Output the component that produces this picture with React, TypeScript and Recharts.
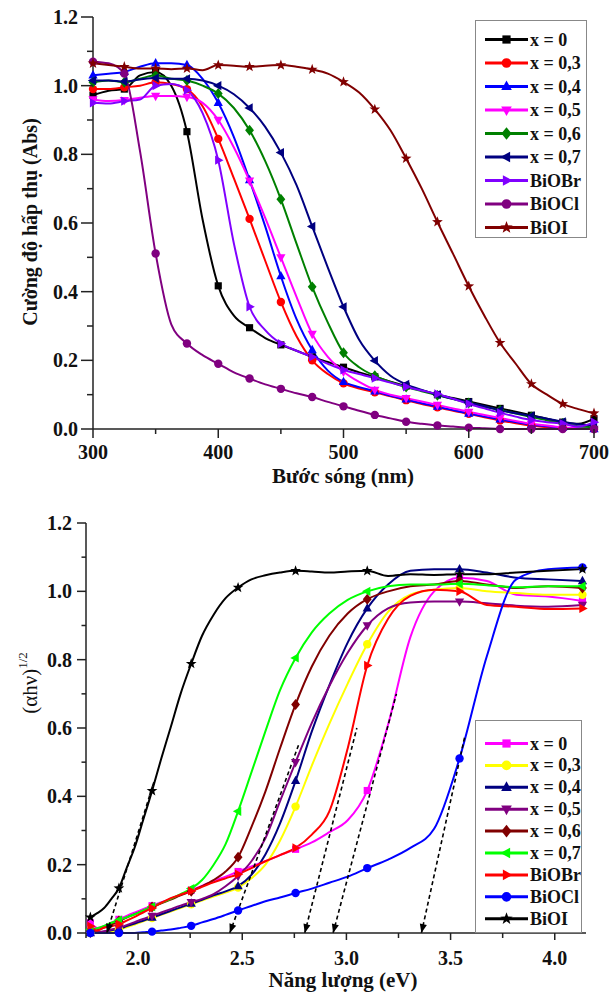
import React from 'react';
import { LineChart, Line, XAxis, YAxis } from 'recharts';

const FONT = '"Liberation Serif", "Times New Roman", serif';

// wavelength grid (nm); markers every 25 nm in (a), every 50 nm in (b)
const wavelengths = [300, 312.5, 325, 337.5, 350, 362.5, 375, 387.5, 400, 412.5, 425, 437.5, 450, 462.5, 475, 487.5, 500, 512.5, 525, 537.5, 550, 562.5, 575, 587.5, 600, 612.5, 625, 637.5, 650, 662.5, 675, 687.5, 700];
// the same points on the photon energy axis of panel (b), eV
const energies = [4.133, 3.968, 3.815, 3.674, 3.543, 3.421, 3.307, 3.2, 3.1, 3.006, 2.918, 2.834, 2.756, 2.681, 2.611, 2.544, 2.48, 2.42, 2.362, 2.307, 2.255, 2.204, 2.157, 2.111, 2.067, 2.024, 1.984, 1.945, 1.908, 1.872, 1.837, 1.804, 1.771];

const absX0 = [0.972, 0.985, 0.99, 1.03, 1.04, 1.0, 0.866, 0.61, 0.417, 0.33, 0.295, 0.265, 0.245, 0.228, 0.21, 0.195, 0.18, 0.165, 0.152, 0.138, 0.125, 0.112, 0.1, 0.09, 0.08, 0.07, 0.06, 0.05, 0.04, 0.03, 0.02, 0.015, 0.03];
const absX03 = [0.99, 0.99, 0.995, 1.0, 1.01, 1.005, 0.99, 0.94, 0.845, 0.73, 0.612, 0.49, 0.37, 0.27, 0.2, 0.16, 0.133, 0.118, 0.107, 0.095, 0.084, 0.073, 0.063, 0.053, 0.044, 0.034, 0.025, 0.017, 0.01, 0.005, 0.002, 0.0, 0.0];
const absX04 = [1.03, 1.035, 1.04, 1.055, 1.065, 1.065, 1.06, 1.02, 0.95, 0.85, 0.725, 0.59, 0.445, 0.32, 0.23, 0.17, 0.137, 0.122, 0.11, 0.097, 0.086, 0.075, 0.065, 0.055, 0.045, 0.036, 0.028, 0.02, 0.012, 0.008, 0.004, 0.002, 0.0];
const absX05 = [0.96, 0.955, 0.958, 0.965, 0.97, 0.97, 0.967, 0.95, 0.9, 0.82, 0.723, 0.615, 0.5, 0.385, 0.277, 0.21, 0.167, 0.137, 0.114, 0.1, 0.09, 0.08, 0.07, 0.06, 0.05, 0.041, 0.032, 0.023, 0.015, 0.01, 0.005, 0.002, 0.0];
const absX06 = [1.01, 1.015, 1.01, 1.02, 1.03, 1.02, 1.015, 1.0, 0.977, 0.935, 0.87, 0.78, 0.669, 0.54, 0.414, 0.31, 0.222, 0.18, 0.155, 0.137, 0.122, 0.11, 0.098, 0.087, 0.076, 0.065, 0.055, 0.045, 0.035, 0.025, 0.016, 0.008, 0.005];
const absX07 = [1.015, 1.015, 1.012, 1.018, 1.022, 1.02, 1.02, 1.015, 1.0, 0.975, 0.935, 0.88, 0.805, 0.71, 0.59, 0.47, 0.356, 0.26, 0.199, 0.155, 0.13, 0.114, 0.1, 0.088, 0.077, 0.066, 0.055, 0.046, 0.038, 0.03, 0.021, 0.014, 0.01];
const absBiOBr = [0.95, 0.948, 0.955, 0.96, 1.0, 1.005, 0.987, 0.92, 0.783, 0.54, 0.356, 0.288, 0.249, 0.228, 0.21, 0.19, 0.172, 0.16, 0.148, 0.135, 0.123, 0.112, 0.102, 0.088, 0.073, 0.06, 0.047, 0.036, 0.026, 0.02, 0.016, 0.007, 0.02];
const absBiOCl = [1.07, 1.065, 1.035, 0.81, 0.511, 0.305, 0.249, 0.215, 0.19, 0.165, 0.147, 0.13, 0.117, 0.104, 0.093, 0.079, 0.066, 0.053, 0.041, 0.031, 0.021, 0.015, 0.01, 0.007, 0.004, 0.002, 0, 0, 0, 0, 0, 0, 0];
const absBiOI = [1.065, 1.06, 1.055, 1.05, 1.05, 1.048, 1.05, 1.045, 1.06, 1.058, 1.055, 1.058, 1.06, 1.055, 1.047, 1.035, 1.011, 0.98, 0.931, 0.87, 0.788, 0.7, 0.603, 0.51, 0.416, 0.33, 0.251, 0.19, 0.131, 0.1, 0.073, 0.058, 0.046];

const seriesNames = ['x = 0', 'x = 0,3', 'x = 0,4', 'x = 0,5', 'x = 0,6', 'x = 0,7', 'BiOBr', 'BiOCl', 'BiOI'];
const seriesValues = [absX0, absX03, absX04, absX05, absX06, absX07, absBiOBr, absBiOCl, absBiOI];
const markerShapes = ['square', 'circle', 'up', 'down', 'diamond', 'left', 'right', 'circle', 'star'];
const colorsA = ['#000000', '#ff0000', '#0000ff', '#ff00ff', '#008000', '#000080', '#8000ff', '#800080', '#800000'];
const colorsB = ['#ff00ff', '#ffff00', '#000080', '#800080', '#800000', '#00ff00', '#ff0000', '#0000ff', '#000000'];

const yTicks = [0, 0.1, 0.2, 0.3, 0.4, 0.5, 0.6, 0.7, 0.8, 0.9, 1.0, 1.1, 1.2];
const xTicksA = [300, 350, 400, 450, 500, 550, 600, 650, 700];
const xTicksB = [1.75, 2.0, 2.25, 2.5, 2.75, 3.0, 3.25, 3.5, 3.75, 4.0];

// dashed tangents of panel (b): upper end on the curve, foot on the energy axis
const tangentTopE = [2.08, 2.77, 3.05, 3.24, 3.57];
const tangentTopV = [0.45, 0.55, 0.6, 0.7, 0.58];
const tangentFootE = [1.85, 2.44, 2.8, 2.936, 3.36];

const poly = (cx: number, cy: number, s: number, pts: number[][]) =>
  pts.map(([a, b]) => `${cx + a * s},${cy + b * s}`).join(' ');

const starPts = Array.from({ length: 10 }, (_, i) => {
  const r = i % 2 === 0 ? 1.35 : 0.55;
  const a = -Math.PI / 2 + (i * Math.PI) / 5;
  return [r * Math.cos(a), r * Math.sin(a)];
});

function Marker({ shape, cx, cy, color, k = 1 }: { shape: string; cx: number; cy: number; color: string; k?: number }) {
  const s = 4.2 * k;
  switch (shape) {
    case 'square':
      return <rect x={cx - s * 0.85} y={cy - s * 0.85} width={s * 1.7} height={s * 1.7} fill={color} />;
    case 'circle':
      return <circle cx={cx} cy={cy} r={s} fill={color} />;
    case 'up':
      return <polygon points={poly(cx, cy, s, [[0, -1.25], [1.1, 0.75], [-1.1, 0.75]])} fill={color} />;
    case 'down':
      return <polygon points={poly(cx, cy, s, [[0, 1.25], [1.1, -0.75], [-1.1, -0.75]])} fill={color} />;
    case 'left':
      return <polygon points={poly(cx, cy, s, [[-1.25, 0], [0.75, -1.1], [0.75, 1.1]])} fill={color} />;
    case 'right':
      return <polygon points={poly(cx, cy, s, [[1.25, 0], [-0.75, -1.1], [-0.75, 1.1]])} fill={color} />;
    case 'diamond':
      return <polygon points={poly(cx, cy, s, [[0, -1.3], [1.05, 0], [0, 1.3], [-1.05, 0]])} fill={color} />;
    default:
      return <polygon points={poly(cx, cy, s, starPts)} fill={color} />;
  }
}

// draw a marker on every `step`-th point of the grid
const markerDot = (shape: string, color: string, step: number) => (p: any) => {
  const { cx, cy, index } = p;
  if (index % step !== 0 || cx == null || cy == null) return <g key={`m-${index}`} />;
  return (
    <g key={`m-${index}`}>
      <Marker shape={shape} cx={cx} cy={cy} color={color} />
    </g>
  );
};

const arrowHead = (p: any) => {
  const { cx, cy, index, points } = p;
  if (index !== 0 || cx == null) return <g key={`a-${index}`} />;
  let ang = Math.PI / 2;
  if (points && points.length > 1) ang = Math.atan2(cy - points[1].y, cx - points[1].x);
  const L = 9;
  const W = 3.6;
  const bx = cx - L * Math.cos(ang);
  const by = cy - L * Math.sin(ang);
  const nx = -Math.sin(ang);
  const ny = Math.cos(ang);
  return (
    <polygon
      key={`a-${index}`}
      points={`${cx},${cy} ${bx + W * nx},${by + W * ny} ${bx - W * nx},${by - W * ny}`}
      fill="#000"
    />
  );
};

const tickText = { fontFamily: FONT, fontWeight: 'bold' as const, fontSize: 20, fill: '#111' };

const makeYTick = (majorLen: number, minorLen: number, gap: number) => (props: any) => {
  const { x, y, payload } = props;
  const v = payload.value as number;
  const major = Math.round(v * 10) % 2 === 0;
  return (
    <g>
      <line x1={x} x2={x - (major ? majorLen : minorLen)} y1={y} y2={y} stroke="#222" strokeWidth={1.5} />
      {major && (
        <text x={x - gap} y={y} textAnchor="end" dominantBaseline="central" {...tickText}>
          {v.toFixed(1)}
        </text>
      )}
    </g>
  );
};

const makeXTick = (isMajor: (v: number) => boolean, fmt: (v: number) => string, majorLen: number, minorLen: number, dy: number) => (props: any) => {
  const { x, y, payload } = props;
  const v = payload.value as number;
  const major = isMajor(v);
  return (
    <g>
      <line x1={x} x2={x} y1={y} y2={y + (major ? majorLen : minorLen)} stroke="#222" strokeWidth={1.5} />
      {major && (
        <text x={x} y={y + dy} textAnchor="middle" dominantBaseline="central" {...tickText}>
          {fmt(v)}
        </text>
      )}
    </g>
  );
};

const titleText = { fontFamily: FONT, fontWeight: 'bold' as const, fill: '#111' };

interface PanelProps {
  height: number;
  margin: { top: number; right: number; left: number; bottom: number };
  xs: number[];
  xDomain: [number, number];
  xTicks: number[];
  xTick: (p: any) => React.ReactElement;
  yTick: (p: any) => React.ReactElement;
  colors: string[];
  markerStep: number;
  tangents?: boolean;
  title: React.ReactNode;
  xTitle: React.ReactNode;
  yTitle: React.ReactNode;
}

function Panel({ height, margin, xs, xDomain, xTicks, xTick, yTick, colors, markerStep, tangents, title, xTitle, yTitle }: PanelProps) {
  return (
    <LineChart width={612} height={height} margin={margin}>
      <XAxis
        dataKey="x"
        type="number"
        domain={xDomain}
        ticks={xTicks}
        interval={0}
        tickSize={0}
        tickMargin={0}
        tickLine={false}
        tick={xTick}
        height={30}
        axisLine={{ stroke: '#222', strokeWidth: 1.5 }}
        label={() => xTitle}
      />
      <XAxis
        xAxisId="top"
        orientation="top"
        type="number"
        domain={xDomain}
        height={0}
        tick={false}
        tickLine={false}
        axisLine={{ stroke: '#555', strokeWidth: 1.5 }}
        label={() => title}
      />
      <YAxis
        type="number"
        domain={[0, 1.2]}
        ticks={yTicks}
        interval={0}
        tickSize={0}
        tickMargin={0}
        tickLine={false}
        tick={yTick}
        width={60}
        axisLine={{ stroke: '#222', strokeWidth: 1.5 }}
        label={() => yTitle}
      />
      <YAxis
        yAxisId="right"
        orientation="right"
        type="number"
        domain={[0, 1.2]}
        width={0}
        tick={false}
        tickLine={false}
        axisLine={{ stroke: '#555', strokeWidth: 1.5 }}
      />
      {seriesValues.map((vals, i) => (
        <Line
          key={seriesNames[i]}
          data={xs.map((x, j) => ({ x, v: vals[j] })).sort((a, b) => a.x - b.x)}
          dataKey="v"
          name={seriesNames[i]}
          type="monotone"
          stroke={colors[i]}
          strokeWidth={2}
          dot={markerDot(markerShapes[i], colors[i], markerStep)}
          activeDot={false}
          isAnimationActive={false}
        />
      ))}
      {tangents &&
        tangentFootE.map((foot, i) => (
          <Line
            key={`tangent-${i}`}
            data={[
              { x: foot, v: 0 },
              { x: tangentTopE[i], v: tangentTopV[i] },
            ]}
            dataKey="v"
            type="linear"
            stroke="#000"
            strokeWidth={1.6}
            strokeDasharray="4 3"
            dot={arrowHead}
            activeDot={false}
            isAnimationActive={false}
          />
        ))}
    </LineChart>
  );
}

function LegendBox({ left, top, width, height, rowTop, rowGap, colors }: { left: number; top: number; width: number; height: number; rowTop: number; rowGap: number; colors: string[] }) {
  return (
    <div style={{ position: 'absolute', left, top, width, height, border: '1px solid #888', background: '#fff', boxSizing: 'border-box' }}>
      <svg width={width - 2} height={height - 2} style={{ display: 'block' }}>
        {seriesNames.map((name, i) => {
          const y = rowTop + i * rowGap;
          return (
            <g key={name}>
              <line x1={9} x2={52} y1={y} y2={y} stroke={colors[i]} strokeWidth={3} />
              <Marker shape={markerShapes[i]} cx={30.5} cy={y} color={colors[i]} k={1.15} />
              <text x={54} y={y} dominantBaseline="central" fontFamily={FONT} fontWeight="bold" fontSize={18} fill="#111">
                {name}
              </text>
            </g>
          );
        })}
      </svg>
    </div>
  );
}

export default function App() {
  const xTickA = makeXTick((v) => v % 100 === 0, (v) => String(v), 9, 5, 23);
  const xTickB = makeXTick((v) => Math.round(v * 4) % 2 === 0, (v) => v.toFixed(1), 7, 5, 25);

  return (
    <div style={{ position: 'absolute', left: 0, top: 0, width: 612, height: 998, background: '#fff' }}>
      <div style={{ position: 'absolute', left: 0, top: 0 }}>
        <Panel
          height={500}
          margin={{ top: 17, right: 18, left: 33, bottom: 41 }}
          xs={wavelengths}
          xDomain={[300, 700]}
          xTicks={xTicksA}
          xTick={xTickA}
          yTick={makeYTick(12, 6, 15)}
          colors={colorsA}
          markerStep={2}
          title={<text x={319} y={35} textAnchor="middle" dominantBaseline="central" fontSize={23} {...titleText}>(a)</text>}
          xTitle={<text x={343} y={476} textAnchor="middle" dominantBaseline="central" fontSize={21} {...titleText}>Bước sóng (nm)</text>}
          yTitle={<text x={30} y={222} transform="rotate(-90 30 222)" textAnchor="middle" dominantBaseline="central" fontSize={20} {...titleText}>Cường độ hấp thụ (Abs)</text>}
        />
      </div>
      <div style={{ position: 'absolute', left: 0, top: 500 }}>
        <Panel
          height={498}
          margin={{ top: 23, right: 26, left: 26, bottom: 35 }}
          xs={energies}
          xDomain={[1.75, 4.15]}
          xTicks={xTicksB}
          xTick={xTickB}
          yTick={makeYTick(9, 4.5, 14)}
          colors={colorsB}
          markerStep={4}
          tangents
          title={<text x={340} y={42} textAnchor="middle" dominantBaseline="central" fontSize={23} {...titleText}>(b)</text>}
          xTitle={<text x={343} y={480} textAnchor="middle" dominantBaseline="central" fontSize={21} {...titleText}>Năng lượng (eV)</text>}
          yTitle={
            <text x={30} y={183} transform="rotate(-90 30 183)" textAnchor="middle" dominantBaseline="central" fontFamily={FONT} fontSize={21} fill="#111">
              (αhν)
              <tspan dy={-8} fontSize={13}>1/2</tspan>
            </text>
          }
        />
      </div>
      <LegendBox left={475} top={20} width={112} height={218} rowTop={18.5} rowGap={23.5} colors={colorsA} />
      <LegendBox left={475} top={720} width={107} height={213} rowTop={22.5} rowGap={21.9} colors={colorsB} />
    </div>
  );
}
